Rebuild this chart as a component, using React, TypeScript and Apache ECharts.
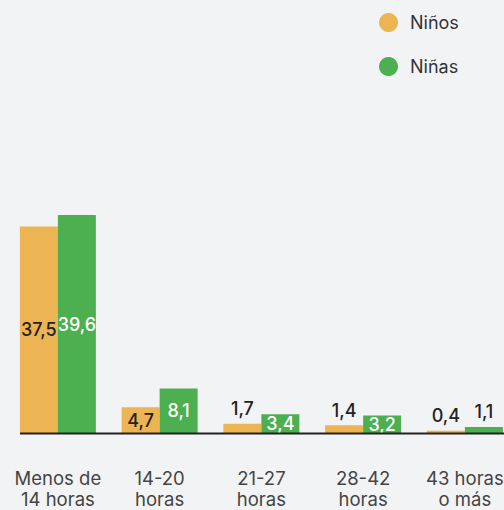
import React, { useEffect, useRef } from "react";
import * as echarts from "echarts";

const categories = ["Menos de\n14 horas", "14-20\nhoras", "21-27\nhoras", "28-42\nhoras", "43 horas\no más"];
const seriesNames = ["Niños", "Niñas"];
const ninos = [37.5, 4.7, 1.7, 1.4, 0.4];
const ninas = [39.6, 8.1, 3.4, 3.2, 1.1];

const ORANGE = "#ECB452";
const GREEN = "#4CAF50";
const FONT = "Inter";

function fmt(v: number) {
  return String(v).replace(".", ",");
}

function buildData(values: number[], insideColor: string) {
  return values.map((v) => {
    const inside = v >= 2;
    return {
      value: v,
      label: inside
        ? { position: "inside", color: insideColor }
        : { position: "top", color: "#222222", distance: 6 },
    };
  });
}

export default function App() {
  const ref = useRef<HTMLDivElement>(null);
  useEffect(() => {
    if (!ref.current) return;
    const chart = echarts.init(ref.current, null, { renderer: "svg" });
    const labelBase = {
      show: true,
      fontFamily: FONT,
      fontSize: 18,
      fontWeight: 500,
      formatter: (p: any) => fmt(p.value),
    };
    chart.setOption({
      animation: false,
      backgroundColor: "#F2F3F5",
      textStyle: { fontFamily: FONT },
      legend: {
        orient: "vertical",
        left: 374,
        top: 8,
        itemWidth: 19,
        itemHeight: 19,
        itemGap: 25,
        icon: "circle",
        textStyle: { fontSize: 18, color: "#333333", fontFamily: FONT, padding: [0, 0, 0, 7] },
        data: seriesNames,
      },
      grid: {
        left: 7,
        width: 508.75,
        top: 212.8,
        bottom: 77,
        containLabel: false,
        outerBoundsMode: "none",
      },
      xAxis: {
        type: "category",
        data: categories,
        axisLine: { show: false },
        axisTick: { show: false },
        axisLabel: {
          interval: 0,
          margin: 34,
          fontSize: 18.5,
          lineHeight: 21.5,
          color: "#444444",
          fontFamily: FONT,
        },
      },
      yAxis: { type: "value", min: 0, max: 40, show: false, splitLine: { show: false } },
      series: [
        {
          name: seriesNames[0],
          type: "bar",
          barWidth: 38,
          barGap: "0%",
          itemStyle: { color: ORANGE },
          label: { ...labelBase, color: "#222222" },
          data: buildData(ninos, "#222222"),
        },
        {
          name: seriesNames[1],
          type: "bar",
          barWidth: 38,
          barGap: "0%",
          itemStyle: { color: GREEN },
          label: { ...labelBase, color: "#ffffff" },
          data: buildData(ninas, "#ffffff"),
        },
      ],
    });
    const y0 = chart.convertToPixel({ yAxisIndex: 0 }, 0) as number;
    chart.setOption({
      graphic: [
        {
          type: "line",
          shape: { x1: 20, y1: y0 + 0.5, x2: 504, y2: y0 + 0.5 },
          style: { stroke: "#222222", lineWidth: 2 },
          z: 10,
        },
      ],
    });
    return () => chart.dispose();
  }, []);
  return (
    <div
      ref={ref}
      style={{ position: "fixed", left: 0, top: 0, width: 504, height: 510 }}
    />
  );
}
